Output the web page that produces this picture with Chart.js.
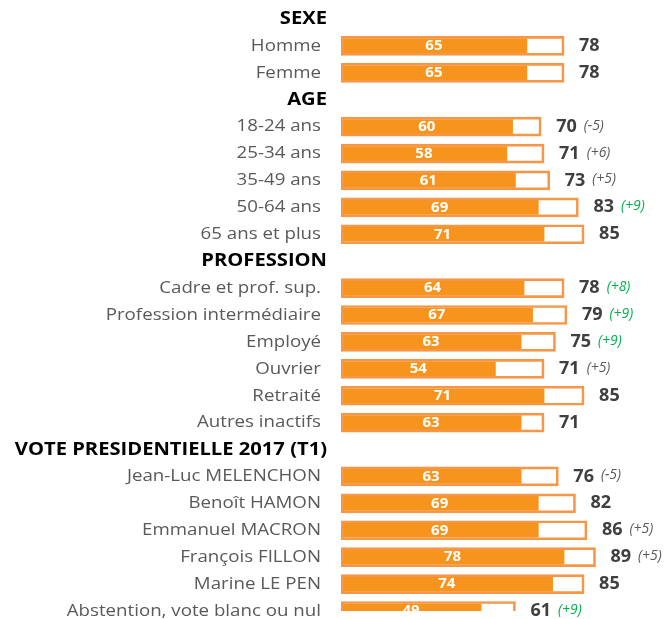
<!DOCTYPE html>
<html>
<head>
<meta charset="utf-8">
<script src="https://cdn.jsdelivr.net/npm/chart.js@4.4.0/dist/chart.umd.min.js"></script>
<style>
  html, body { margin: 0; padding: 0; background: #fff; }
  #wrap { width: 664px; height: 619px; position: relative; }
</style>
</head>
<body>
<div id="wrap"><canvas id="grafica"></canvas></div>
<script>
// Lignes (les titres de section n'ont pas de valeurs)
const labels = [
  'SEXE', 'Homme', 'Femme',
  'AGE', '18-24 ans', '25-34 ans', '35-49 ans', '50-64 ans', '65 ans et plus',
  'PROFESSION', 'Cadre et prof. sup.', 'Profession intermédiaire', 'Employé', 'Ouvrier', 'Retraité', 'Autres inactifs',
  'VOTE PRESIDENTIELLE 2017 (T1)', 'Jean-Luc MELENCHON', 'Benoît HAMON', 'Emmanuel MACRON', 'François FILLON', 'Marine LE PEN', 'Abstention, vote blanc ou nul'
];
const headers = [true, false, false, true, false, false, false, false, false, true, false, false, false, false, false, false, true, false, false, false, false, false, false];

const innerValues = [null, 65, 65, null, 60, 58, 61, 69, 71, null, 64, 67, 63, 54, 71, 63, null, 63, 69, 69, 78, 74, 49];
const totalValues = [null, 78, 78, null, 70, 71, 73, 83, 85, null, 78, 79, 75, 71, 85, 71, null, 76, 82, 86, 89, 85, 61];
const deltas = [null, null, null, null, '(-5)', '(+6)', '(+5)', '(+9)', null, null, '(+8)', '(+9)', '(+9)', '(+5)', null, null, null, '(-5)', null, '(+5)', '(+5)', null, '(+9)'];
const deltaGreen = [false, false, false, false, false, false, false, true, false, false, true, true, true, false, false, false, false, false, false, false, false, false, true];

const FONT = '"Open Sans", "Noto Sans", sans-serif';

// texte aligné à droite, un peu élargi horizontalement
function texteLarge(ctx, txt, x, y, sx) {
  ctx.save();
  ctx.translate(x, y);
  ctx.scale(sx, 1);
  ctx.textAlign = 'right';
  ctx.fillText(txt, 0, 0);
  ctx.restore();
}

const textePlugin = {
  id: 'textes',
  afterDatasetsDraw(chart) {
    const ctx = chart.ctx;
    const xs = chart.scales.x;
    const ys = chart.scales.y;
    ctx.save();
    ctx.textBaseline = 'middle';
    labels.forEach((lab, i) => {
      const y = ys.getPixelForValue(i);
      // libellés à gauche
      if (headers[i]) {
        ctx.font = 'bold 18px ' + FONT;
        ctx.fillStyle = '#000000';
        texteLarge(ctx, lab, 327, y, 1.12);
        return;
      }
      ctx.font = '17px ' + FONT;
      ctx.fillStyle = '#595959';
      texteLarge(ctx, lab, 321, y, 1.1);

      // valeur dans la barre
      const x0 = xs.getPixelForValue(0);
      const x1 = xs.getPixelForValue(innerValues[i]);
      ctx.textAlign = 'center';
      ctx.font = 'bold 15px ' + FONT;
      ctx.fillStyle = '#ffffff';
      ctx.fillText(String(innerValues[i]), (x0 + x1) / 2, y);

      // total à droite
      const xt = xs.getPixelForValue(totalValues[i]) + 15;
      ctx.textAlign = 'left';
      ctx.font = 'bold 18px ' + FONT;
      ctx.fillStyle = '#404040';
      const t = String(totalValues[i]);
      ctx.fillText(t, xt, y);

      if (deltas[i]) {
        const w = ctx.measureText(t).width;
        ctx.font = 'italic 14px ' + FONT;
        ctx.fillStyle = deltaGreen[i] ? '#00B050' : '#595959';
        ctx.fillText(deltas[i], xt + w + 7, y - 1);
      }
    });
    ctx.restore();
  }
};

new Chart(document.getElementById('grafica'), {
  type: 'bar',
  data: {
    labels: labels,
    datasets: [
      {
        label: 'Total',
        data: totalValues,
        backgroundColor: 'rgba(255,255,255,0)',
        borderColor: '#F79646',
        borderWidth: 2,
        borderSkipped: false,
        barThickness: 19,
        grouped: false,
        order: 0
      },
      {
        label: 'Valeur',
        data: innerValues,
        backgroundColor: '#F7941D',
        borderWidth: 0,
        barThickness: 14,
        grouped: false,
        order: 1
      }
    ]
  },
  options: {
    indexAxis: 'y',
    responsive: true,
    maintainAspectRatio: false,
    animation: false,
    layout: { padding: { left: 341, right: 37, top: 19, bottom: 8 } },
    plugins: {
      legend: { display: false },
      tooltip: { enabled: false }
    },
    scales: {
      x: { display: false, min: 0, max: 100, grid: { display: false } },
      y: { display: false, offset: false, grid: { display: false } }
    }
  },
  plugins: [textePlugin]
});
</script>
</body>
</html>
